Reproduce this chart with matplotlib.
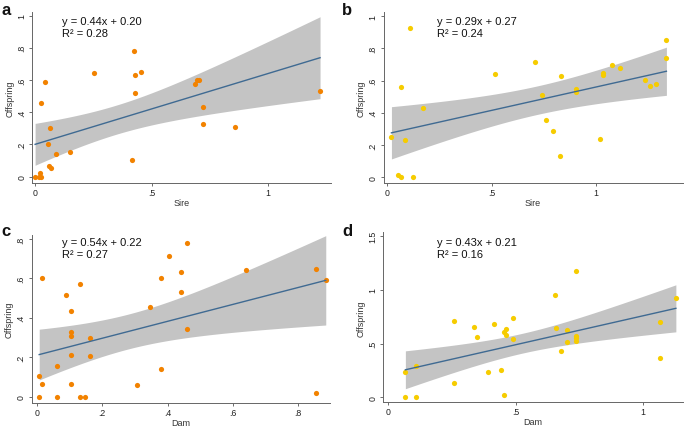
import numpy as np
import matplotlib
matplotlib.use("Agg")
import matplotlib.pyplot as plt

plt.rcParams['font.family'] = ['Liberation Sans', 'DejaVu Sans']

# ---------------- data ----------------
a_x = [0.0, 0.015, 0.022, 0.025, 0.041, 0.024, 0.066, 0.056, 0.059, 0.070, 0.089, 0.149,
       0.253, 0.426, 0.429, 0.456, 0.429, 0.415, 0.685, 0.694, 0.704, 0.721, 0.720, 0.857, 1.223]
a_y = [0.0, 0.0, 0.02, 0.0, 0.589, 0.456, 0.299, 0.203, 0.066, 0.052, 0.139, 0.151,
       0.645, 0.780, 0.633, 0.649, 0.517, 0.104, 0.573, 0.600, 0.600, 0.434, 0.326, 0.309, 0.533]

b_x = [0.021, 0.051, 0.067, 0.123, 0.085, 0.065, 0.108, 0.172, 0.515, 0.708, 0.743, 0.762,
       0.793, 0.834, 0.826, 0.903, 0.903, 1.021, 1.033, 1.033, 1.077, 1.113, 1.233, 1.257,
       1.286, 1.337, 1.337]
b_y = [0.249, 0.012, 0.004, 0.004, 0.234, 0.560, 0.923, 0.429, 0.643, 0.712, 0.508, 0.355,
       0.290, 0.627, 0.131, 0.550, 0.529, 0.237, 0.649, 0.633, 0.695, 0.678, 0.604, 0.566,
       0.577, 0.851, 0.741]

c_x = [0.007, 0.015, 0.007, 0.015, 0.062, 0.062, 0.088, 0.105, 0.105, 0.105, 0.105, 0.105,
       0.133, 0.132, 0.148, 0.161, 0.161, 0.305, 0.347, 0.380, 0.380, 0.405, 0.440, 0.440,
       0.458, 0.458, 0.639, 0.854, 0.854, 0.884]
c_y = [0.103, 0.064, 0.0, 0.602, 0.153, 0.0, 0.517, 0.434, 0.329, 0.308, 0.212, 0.061,
       0.573, 0.0, 0.0, 0.298, 0.205, 0.056, 0.456, 0.602, 0.139, 0.715, 0.632, 0.530,
       0.778, 0.344, 0.644, 0.649, 0.020, 0.590]

d_x = [0.067, 0.067, 0.107, 0.107, 0.256, 0.256, 0.337, 0.346, 0.392, 0.413, 0.444, 0.453,
       0.453, 0.463, 0.463, 0.491, 0.491, 0.654, 0.658, 0.676, 0.700, 0.700, 0.736, 0.736,
       0.736, 0.736, 1.065, 1.065, 1.128]
d_y = [0.239, 0.006, 0.295, 0.006, 0.714, 0.134, 0.655, 0.565, 0.239, 0.683, 0.252, 0.022,
       0.606, 0.637, 0.581, 0.742, 0.540, 0.950, 0.649, 0.435, 0.627, 0.512, 1.174, 0.571,
       0.550, 0.525, 0.702, 0.363, 0.925]

# equation text printed in each panel
eq_text = ['y = 0.44x + 0.20', 'y = 0.29x + 0.27', 'y = 0.54x + 0.22', 'y = 0.43x + 0.21']
r2_text = ['R\u00b2 = 0.28', 'R\u00b2 = 0.24', 'R\u00b2 = 0.27', 'R\u00b2 = 0.16']
# coefficients of the fitted line actually drawn in each panel
fit_slopes = [0.44, 0.29, 0.43, 0.54]
fit_intercepts = [0.20, 0.27, 0.21, 0.22]

panel_letters = ['a', 'b', 'c', 'd']
x_labels = ['Sire', 'Sire', 'Dam', 'Dam']
y_label = 'Offspring'

a_xticks, a_xticklabels = [0, 0.5, 1], ['0', '.5', '1']
a_yticks, a_yticklabels = [0, 0.2, 0.4, 0.6, 0.8, 1], ['0', '.2', '.4', '.6', '.8', '1']
b_xticks, b_xticklabels = [0, 0.5, 1], ['0', '.5', '1']
b_yticks, b_yticklabels = [0, 0.2, 0.4, 0.6, 0.8, 1], ['0', '.2', '.4', '.6', '.8', '1']
c_xticks, c_xticklabels = [0, 0.2, 0.4, 0.6, 0.8], ['0', '.2', '.4', '.6', '.8']
c_yticks, c_yticklabels = [0, 0.2, 0.4, 0.6, 0.8], ['0', '.2', '.4', '.6', '.8']
d_xticks, d_xticklabels = [0, 0.5, 1], ['0', '.5', '1']
d_yticks, d_yticklabels = [0, 0.5, 1, 1.5], ['0', '.5', '1', '1.5']

# ---------------- layout ----------------
W, H = 685, 427
fig = plt.figure(figsize=(W / 100, H / 100), dpi=100)

ORANGE = '#F28200'
YELLOW = '#F6CC00'
LINE = '#3F6A92'
BAND = '#C4C4C4'

panels = [
    dict(x=a_x, y=a_y, xt=a_xticks, xtl=a_xticklabels, yt=a_yticks, ytl=a_yticklabels,
         color=ORANGE, px=(32.3, 331.0, 12.7, 184.3), xlim=(-0.012, 1.270), ylim=(-0.042, 1.024),
         letter_pos=(1, 3), text_pos=(62, 17)),
    dict(x=b_x, y=b_y, xt=b_xticks, xtl=b_xticklabels, yt=b_yticks, ytl=b_yticklabels,
         color=YELLOW, px=(383.5, 682.7, 13.0, 184.0), xlim=(-0.017, 1.415), ylim=(-0.035, 1.025),
         letter_pos=(342, 3), text_pos=(437, 17)),
    dict(x=c_x, y=c_y, xt=c_xticks, xtl=c_xticklabels, yt=c_yticks, ytl=c_yticklabels,
         color=ORANGE, px=(31.7, 330.0, 235.7, 403.8), xlim=(-0.016, 0.897), ylim=(-0.032, 0.822),
         letter_pos=(1, 224), text_pos=(62, 238)),
    dict(x=d_x, y=d_y, xt=d_xticks, xtl=d_xticklabels, yt=d_yticks, ytl=d_yticklabels,
         color=YELLOW, px=(383.3, 683.0, 233.4, 403.3), xlim=(-0.0196, 1.156), ylim=(-0.047, 1.537),
         letter_pos=(342, 224), text_pos=(437, 238)),
]

T_CRIT = 2.06

for i, p in enumerate(panels):
    l, r, t, b = p['px']
    ax = fig.add_axes([l / W, 1 - b / H, (r - l) / W, (b - t) / H])
    x = np.asarray(p['x'])
    y = np.asarray(p['y'])
    m, c0 = fit_slopes[i], fit_intercepts[i]
    n = len(x)
    resid = y - (m * x + c0)
    s = np.sqrt(np.sum(resid ** 2) / (n - 2))
    xbar = x.mean()
    sxx = np.sum((x - xbar) ** 2)
    xs = np.linspace(x.min(), x.max(), 200)
    fit = m * xs + c0
    hw = T_CRIT * s * np.sqrt(1.0 / n + (xs - xbar) ** 2 / sxx)
    ax.fill_between(xs, fit - hw, fit + hw, color=BAND, lw=0, zorder=1)
    ax.plot(xs, fit, color=LINE, lw=1.0, zorder=3)
    ax.scatter(x, y, s=14, color=p['color'], lw=0, zorder=2)

    ax.set_xlim(*p['xlim'])
    ax.set_ylim(*p['ylim'])
    ax.set_xticks(p['xt'])
    ax.set_xticklabels(p['xtl'])
    ax.set_yticks(p['yt'])
    ax.set_yticklabels(p['ytl'], rotation=90, va='center')
    for sp in ['top', 'right']:
        ax.spines[sp].set_visible(False)
    for sp in ['left', 'bottom']:
        ax.spines[sp].set_color('#666666')
        ax.spines[sp].set_linewidth(0.7)
    ax.tick_params(axis='both', length=2.4, width=0.6, color='#555555',
                   labelsize=6.3, labelcolor='#222222')
    ax.tick_params(axis='x', pad=1)
    ax.tick_params(axis='y', pad=2)
    ax.set_xlabel(x_labels[i], fontsize=6.5, color='#333333', labelpad=1)
    ax.set_ylabel(y_label, fontsize=6.5, color='#333333', labelpad=2)
    ax.patch.set_alpha(0)

    lx, ly = p['letter_pos']
    fig.text(lx / W, 1 - ly / H, panel_letters[i], fontsize=12, fontweight='bold',
             va='top', ha='left', color='#111111')
    tx, ty = p['text_pos']
    fig.text(tx / W, 1 - ty / H, eq_text[i] + '\n' + r2_text[i],
             fontsize=8, va='top', ha='left', color='#111111', linespacing=1.2)

fig.savefig('out.png', dpi=100)
